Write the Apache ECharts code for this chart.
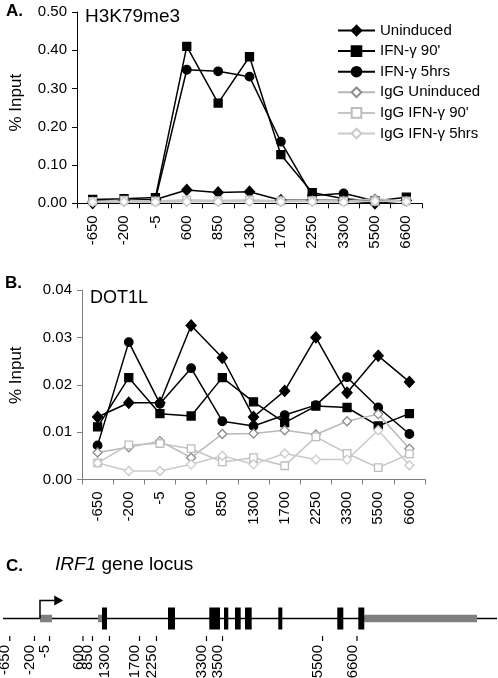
<!DOCTYPE html>
<html><head><meta charset="utf-8">
<script src="https://cdn.jsdelivr.net/npm/echarts@6/dist/echarts.min.js"></script>
<style>html,body{margin:0;padding:0;background:#fff}#c{width:498px;height:678px}</style>
</head><body><div id="c"></div>
<script>
// ---------- data ----------
const categories = ['-650','-200','-5','600','850','1300','1700','2250','3300','5500','6600'];
const seriesNames = ['Uninduced', "IFN-\u03b3 90'", 'IFN-\u03b3 5hrs', 'IgG Uninduced', "IgG IFN-\u03b3 90'", 'IgG IFN-\u03b3 5hrs'];

// Panel A: H3K79me3 (% input)
const h3Uninduced = [0.001, 0.008, 0.010, 0.035, 0.028, 0.030, 0.008, 0.008, 0.007, 0.000, 0.007];
const h3IFN90     = [0.010, 0.012, 0.015, 0.410, 0.262, 0.383, 0.127, 0.028, 0.012, 0.006, 0.016];
const h3IFN5h     = [0.006, 0.008, 0.010, 0.349, 0.345, 0.331, 0.161, 0.020, 0.026, 0.006, 0.006];
const h3IgGUn     = [0.004, 0.005, 0.004, 0.006, 0.005, 0.006, 0.007, 0.007, 0.006, 0.012, 0.005];
const h3IgG90     = [0.005, 0.008, 0.006, 0.009, 0.007, 0.009, 0.006, 0.007, 0.006, 0.005, 0.006];
const h3IgG5h     = [0.003, 0.004, 0.003, 0.004, 0.004, 0.004, 0.004, 0.004, 0.003, 0.006, 0.004];

// Panel B: DOT1L (% input)
const dotUninduced = [0.0132, 0.0162, 0.0162, 0.0325, 0.0257, 0.0132, 0.0187, 0.0300, 0.0183, 0.0261, 0.0206];
const dotIFN90     = [0.0111, 0.0215, 0.0139, 0.0134, 0.0215, 0.0164, 0.0120, 0.0155, 0.0152, 0.0113, 0.0139];
const dotIFN5h     = [0.0072, 0.0290, 0.0160, 0.0235, 0.0123, 0.0113, 0.0136, 0.0157, 0.0216, 0.0152, 0.0096];
const dotIgGUn     = [0.0057, 0.0068, 0.0081, 0.0046, 0.0096, 0.0097, 0.0104, 0.0095, 0.0123, 0.0138, 0.0065];
const dotIgG90     = [0.0035, 0.0073, 0.0076, 0.0065, 0.0037, 0.0046, 0.0029, 0.0090, 0.0055, 0.0025, 0.0054];
const dotIgG5h     = [0.0035, 0.0018, 0.0018, 0.0032, 0.0050, 0.0032, 0.0055, 0.0042, 0.0042, 0.0104, 0.0030];

// Panel C: IRF1 locus schematic (schematic map units, 0-100 across the figure)
const locusSpan   = [0.6, 99.8];
const locusExons  = [[20.48,21.49],[33.73,35.14],[42.03,44.18],[44.98,45.84],[47.19,48.33],[49.2,50.54],[55.88,56.69],[67.73,68.94],[71.95,73.15]];
const locusUTRs   = [[8.03,10.44],[19.68,20.48],[73.15,95.78]];
const locusTSS    = [8.03, 12.7];
const locusLabels = ['-650','-200','-5','600','850','1300','1700','2250','3300','3500','5500','6600'];
const locusLabelPos = [1.06, 6.02, 9.04, 15.76, 17.67, 21.08, 27.11, 30.52, 40.56, 43.78, 63.86, 70.78];

// ---------- styles ----------
const FONT = '"Liberation Sans", Arial, Helvetica, sans-serif';
const styles = [
  {symbol:'diamond', size:[10,11], fill:'#000', border:'#000', line:'#000'},
  {symbol:'rect', size:8, fill:'#000', border:'#000', line:'#000'},
  {symbol:'circle', size:8.5, fill:'#000', border:'#000', line:'#000'},
  {symbol:'diamond', size:9, fill:'#fff', border:'#8c8c8c', line:'#b8b8b8'},
  {symbol:'rect', size:7.5, fill:'#fff', border:'#bdbdbd', line:'#c4c4c4'},
  {symbol:'diamond', size:9, fill:'#fff', border:'#cacaca', line:'#cacaca'}
];
function mk(i, data, axis) {
  const s = styles[i];
  return {
    name: seriesNames[i], type:'line', xAxisIndex:axis, yAxisIndex:axis, data,
    symbol:s.symbol, symbolSize:s.size, showAllSymbol:true,
    lineStyle:{color:s.line, width:1.5},
    itemStyle:{color:s.fill, borderColor:s.border, borderWidth:1.3},
    emphasis:{disabled:true}, z: 2
  };
}
const dataA = [h3Uninduced, h3IFN90, h3IFN5h, h3IgGUn, h3IgG90, h3IgG5h];
const dataB = [dotUninduced, dotIFN90, dotIFN5h, dotIgGUn, dotIgG90, dotIgG5h];

function catAxis(grid, color) {
  return {
    type:'category', gridIndex:grid, data:categories, boundaryGap:true,
    axisLine:{lineStyle:{color, width:1}},
    axisTick:{show:true, interval:0, length:5, lineStyle:{color}},
    axisLabel:{interval:0, rotate:90, margin:12, fontSize:15, fontFamily:FONT, color:'#000'},
    splitLine:{show:false}
  };
}
function valAxis(grid, max, interval, color, gap, shift) {
  return {
    type:'value', gridIndex:grid, min:0, max, interval,
    name:'% Input', nameLocation:'middle', nameGap:gap,
    nameTextStyle:{fontSize:17, fontFamily:FONT, color:'#000', padding:[0,0,0,shift]},
    axisLine:{show:true, lineStyle:{color, width:1}},
    axisTick:{show:true, length:5, lineStyle:{color}},
    axisLabel:{margin:10, fontSize:15, fontFamily:FONT, color:'#000', formatter:v=>v.toFixed(2)},
    splitLine:{show:false}
  };
}

const series = [];
dataA.forEach((d,i)=>series.push(mk(i,d,0)));
dataB.forEach((d,i)=>series.push(mk(i,d,1)));

// locus backbone
series.push({
  type:'line', xAxisIndex:2, yAxisIndex:2, data:[[locusSpan[0],0.5],[locusSpan[1],0.5]],
  symbol:'none', lineStyle:{color:'#000', width:1.5}, silent:true, z:1
});
// UTRs and exons
series.push({
  type:'custom', xAxisIndex:2, yAxisIndex:2, silent:true, z:3,
  data: locusUTRs.map(r=>[r[0], r[1], 0]).concat(locusExons.map(r=>[r[0], r[1], 1])),
  renderItem(params, api){
    const p = api.coord([api.value(0), 0.5]);
    const q = api.coord([api.value(1), 0.5]);
    const exon = api.value(2) === 1;
    const h = exon ? 22 : 7.5;
    return {type:'rect', shape:{x:p[0], y:p[1]-h/2, width:q[0]-p[0], height:h},
      style:{fill: exon ? '#000' : '#7f7f7f'}};
  }
});
// TSS arrow
series.push({
  type:'custom', xAxisIndex:2, yAxisIndex:2, silent:true, z:4,
  data:[[locusTSS[0], locusTSS[1]]],
  renderItem(params, api){
    const a = api.coord([api.value(0), 0.5]);
    const b = api.coord([api.value(1), 0.5]);
    const top = a[1] - 18;
    const headW = 9;
    return {type:'group', children:[
      {type:'polyline', shape:{points:[[a[0], a[1]],[a[0], top],[b[0]-headW, top]]}, style:{stroke:'#000', lineWidth:1.5, fill:null}},
      {type:'polygon', shape:{points:[[b[0]-headW, top-5],[b[0], top],[b[0]-headW, top+5]]}, style:{fill:'#000'}}
    ]};
  }
});
// position labels
series.push({
  type:'custom', xAxisIndex:2, yAxisIndex:2, silent:true, z:4,
  data: locusLabelPos.map((p,i)=>[p, i]),
  renderItem(params, api){
    const c = api.coord([api.value(0), 0.5]);
    const txt = locusLabels[api.value(1)];
    const yTop = 645;
    return {type:'group', children:[
      {type:'text', x:c[0], y:yTop, rotation:Math.PI/2,
        style:{text:txt, font:'15px ' + FONT, fill:'#000', align:'right', verticalAlign:'middle'}},
      {type:'line', shape:{x1:c[0]+4.5, y1:636, x2:c[0]+4.5, y2:641}, style:{stroke:'#000', lineWidth:1.2}}
    ]};
  }
});

const option = {
  animation:false,
  backgroundColor:'#fff',
  textStyle:{fontFamily:FONT},
  title:[
    {text:'A.', left:6, top:2.5, padding:0, textStyle:{fontSize:17, fontWeight:'bold', fontFamily:FONT, color:'#000'}},
    {text:'H3K79me3', left:85, top:7.5, padding:0, textStyle:{fontSize:19, fontWeight:'normal', fontFamily:FONT, color:'#000'}},
    {text:'B.', left:5, top:275, padding:0, textStyle:{fontSize:17, fontWeight:'bold', fontFamily:FONT, color:'#000'}},
    {text:'DOT1L', left:90, top:289, padding:0, textStyle:{fontSize:18, fontWeight:'normal', fontFamily:FONT, color:'#000'}},
    {text:'C.', left:6, top:557.5, padding:0, textStyle:{fontSize:17, fontWeight:'bold', fontFamily:FONT, color:'#000'}},
    {text:'{i|IRF1} gene locus', left:55, top:555.5, padding:0, textStyle:{fontSize:19, fontWeight:'normal', fontFamily:FONT, color:'#000',
      rich:{i:{fontStyle:'italic', fontSize:19, fontFamily:FONT, color:'#000'}}}}
  ],
  legend:{
    data:seriesNames, orient:'vertical', left:337, top:23, padding:0,
    itemWidth:37, itemHeight:12, itemGap:5.6,
    textStyle:{fontSize:15, fontFamily:FONT, color:'#000'},
    selectedMode:false
  },
  grid:[
    {left:73, top:12, width:349, height:191.3},
    {left:78, top:290, width:347, height:189.5},
    {left:0, top:607, width:498, height:23}
  ],
  xAxis:[
    catAxis(0, '#000'),
    catAxis(1, '#808080'),
    {type:'value', gridIndex:2, min:0, max:100, show:false}
  ],
  yAxis:[
    valAxis(0, 0.5, 0.1, '#000', 52, 10),
    valAxis(1, 0.04, 0.01, '#808080', 57, 19),
    {type:'value', gridIndex:2, min:0, max:1, show:false}
  ],
  series
};
const chart = echarts.init(document.getElementById('c'));
chart.setOption(option);
</script></body></html>
